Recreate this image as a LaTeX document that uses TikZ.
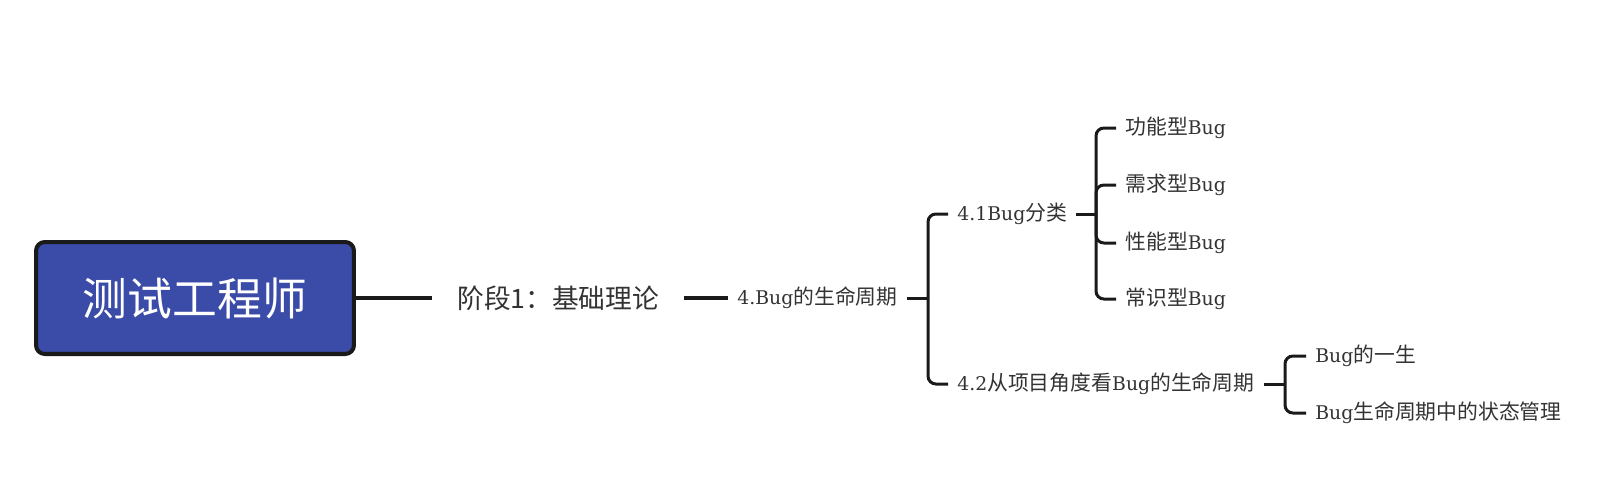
\documentclass[tikz,border=0pt]{standalone}
\usepackage{fontspec}
\setmainfont{DejaVu Serif}[Scale=0.905]
\newfontfamily\cjk{Noto Sans CJK SC}
\usetikzlibrary{positioning}
\definecolor{rootblue}{RGB}{58,75,168}
\definecolor{linegray}{RGB}{26,26,26}
\definecolor{textgray}{RGB}{51,51,51}

\begin{document}
\begin{tikzpicture}[x=0.02cm,y=-0.02cm,
  rootbox/.style={draw=linegray,line width=2.3pt,fill=rootblue,rounded corners=5pt,
    minimum width=6.36cm,minimum height=2.24cm,text=white,
    font=\cjk\fontsize{25.5pt}{30pt}\selectfont},
  stage/.style={anchor=west,inner xsep=0.5cm,text=textgray,
    font=\cjk\fontsize{15.2pt}{18pt}\selectfont},
  topic/.style={anchor=west,inner xsep=0.18cm,text=textgray,
    font=\fontsize{11.85pt}{14pt}\selectfont},
  mainline/.style={draw=linegray,line width=2.3pt},
  branch/.style={draw=linegray,line width=1.7pt,rounded corners=4.5pt}]
\useasboundingbox (0,0) rectangle (1605,495);

% main chain
\node[rootbox] (root) at (195,298) {测试工程师};
\node[stage] (stage) at (432,298) {阶段1：基础理论};
\node[topic] (life) at (728,298) {4.Bug{\cjk 的生命周期}};

\draw[mainline] (root) -- (stage);
\draw[mainline] (stage) -- (life);

% 4.x
\coordinate (j1) at (928,298);
\node[topic] (sort) at (948,214) {4.1Bug{\cjk 分类}};
\node[topic] (proj) at (948,384) {4.2{\cjk 从项目角度看}Bug{\cjk 的生命周期}};

\draw[branch] (life) -- (j1);
\draw[branch] (j1) |- (sort.west);
\draw[branch] (j1) |- (proj.west);

% bug types
\coordinate (j2) at (1096,214);
\node[topic] (func) at (1116,128) {{\cjk 功能型}Bug};
\node[topic] (need) at (1116,185) {{\cjk 需求型}Bug};
\node[topic] (perf) at (1116,243) {{\cjk 性能型}Bug};
\node[topic] (comm) at (1116,299) {{\cjk 常识型}Bug};

\draw[branch] (sort) -- (j2);
\foreach \leaf in {func,need,perf,comm}
  \draw[branch] (j2) |- (\leaf.west);

% project view
\coordinate (j3) at (1285,384);
\node[topic] (once) at (1306,356) {Bug{\cjk 的一生}};
\node[topic] (state) at (1306,413) {Bug{\cjk 生命周期中的状态管理}};

\draw[branch] (proj) -- (j3);
\draw[branch] (j3) |- (once.west);
\draw[branch] (j3) |- (state.west);
\end{tikzpicture}
\end{document}
